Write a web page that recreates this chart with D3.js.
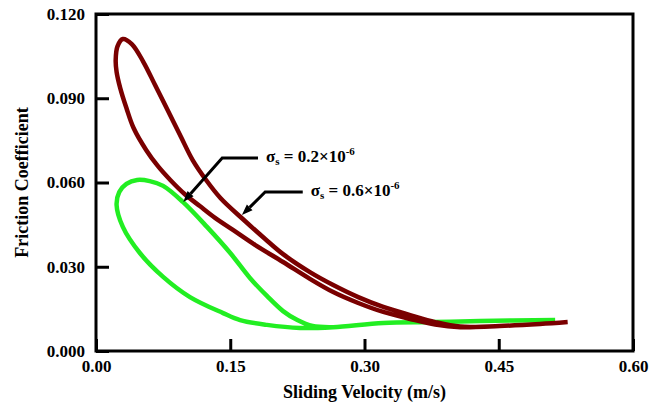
<!DOCTYPE html>
<html>
<head>
<meta charset="utf-8">
<script src="https://cdn.jsdelivr.net/npm/d3@7"></script>
<style>
  body { margin: 0; background: #fff; }
  text { font-family: "Liberation Serif", "Times New Roman", serif; font-weight: bold; }
</style>
</head>
<body>
<div id="chart"></div>
<script>
// tick labels
const xTicks = [0, 0.15, 0.30, 0.45, 0.60]
const yTicks = [0, 0.03, 0.06, 0.09, 0.12]

// sigma_s = 0.2e-6 (green loop)
const velA = [0.513, 0.429, 0.377, 0.321, 0.265, 0.228, 0.191, 0.161, 0.142, 0.105, 0.075, 0.049, 0.030, 0.023, 0.026, 0.034, 0.046, 0.060, 0.075, 0.097, 0.124, 0.150, 0.172, 0.191, 0.209, 0.225, 0.242, 0.265]
const fricA = [0.0110, 0.0107, 0.0103, 0.0100, 0.0085, 0.0082, 0.0093, 0.0110, 0.0135, 0.0192, 0.0264, 0.0349, 0.0442, 0.0520, 0.0566, 0.0595, 0.0609, 0.0605, 0.0588, 0.0531, 0.0442, 0.0349, 0.0260, 0.0196, 0.0142, 0.0110, 0.0089, 0.0085]

// sigma_s = 0.6e-6 (dark red loop)
const velB = [0.527, 0.496, 0.451, 0.407, 0.379, 0.351, 0.321, 0.293, 0.265, 0.239, 0.209, 0.189, 0.164, 0.139, 0.123, 0.108, 0.095, 0.080, 0.066, 0.053, 0.040, 0.030, 0.024, 0.022, 0.023, 0.027, 0.034, 0.042, 0.056, 0.069, 0.083, 0.099, 0.116, 0.133, 0.153, 0.178, 0.209, 0.239, 0.265, 0.293, 0.321, 0.351, 0.379, 0.407, 0.451, 0.496]
const fricB = [0.0103, 0.0096, 0.0089, 0.0087, 0.0103, 0.0128, 0.0157, 0.0192, 0.0235, 0.0281, 0.0345, 0.0399, 0.0470, 0.0545, 0.0609, 0.0680, 0.0762, 0.0858, 0.0947, 0.1029, 0.1093, 0.1111, 0.1085, 0.1036, 0.0994, 0.0937, 0.0865, 0.0794, 0.0716, 0.0659, 0.0609, 0.0559, 0.0516, 0.0474, 0.0431, 0.0377, 0.0317, 0.0257, 0.0210, 0.0171, 0.0139, 0.0114, 0.0094, 0.0085, 0.0089, 0.0096]

// annotation leaders: tip, elbow, end of shelf (data units)
const labels = ["0.2", "0.6"]
const tipV = [0.0975, 0.163], tipF = [0.0531, 0.0484]
const elbowV = [0.141, 0.189], elbowF = [0.0687, 0.0566]
const shelfV = [0.181, 0.231]

const margin = { top: 14, left: 96, right: 26, bottom: 53 },
      width = 659 - margin.left - margin.right,
      height = 404 - margin.top - margin.bottom

const svg = d3.select("#chart")
  .append("svg")
  .attr("width", 659)
  .attr("height", 404)

const plot = svg.append("g")
  .attr("transform", "translate(" + margin.left + "," + margin.top + ")")

const x = d3.scaleLinear().domain([0, 0.6]).range([0, width])
const y = d3.scaleLinear().domain([0, 0.12]).range([height, 0])

// tick marks point inward
plot.append("g")
  .attr("transform", "translate(0," + height + ")")
  .call(d3.axisBottom(x).tickValues(xTicks).tickSize(-12).tickPadding(9).tickFormat(d3.format(".2f")))
  .call(g => g.select(".domain").remove())

plot.append("g")
  .call(d3.axisLeft(y).tickValues(yTicks).tickSize(-13).tickPadding(11).tickFormat(d3.format(".3f")))
  .call(g => g.select(".domain").remove())

plot.selectAll(".tick line").attr("stroke", "#000").attr("stroke-width", 3)
plot.selectAll(".tick text")
  .attr("fill", "#000")
  .style("font-size", "17px")
  .style("font-family", "Liberation Serif, serif")
  .style("font-weight", "bold")

plot.append("rect")
  .attr("width", width)
  .attr("height", height)
  .attr("fill", "none")
  .attr("stroke", "#000")
  .attr("stroke-width", 3)

const line = d3.line()
  .x(d => x(d[0]))
  .y(d => y(d[1]))
  .curve(d3.curveCatmullRom.alpha(0.5))

plot.append("path")
  .datum(d3.zip(velA, fricA))
  .attr("d", line)
  .attr("fill", "none")
  .attr("stroke", "#22ee22")
  .attr("stroke-width", 4.5)

plot.append("path")
  .datum(d3.zip(velB, fricB))
  .attr("d", line)
  .attr("fill", "none")
  .attr("stroke", "#7a0000")
  .attr("stroke-width", 4.5)

// leaders with arrowheads
labels.forEach(function(lab, i) {
  const tx = x(tipV[i]), ty = y(tipF[i])
  const ex = x(elbowV[i]), ey = y(elbowF[i])
  const ang = Math.atan2(ty - ey, tx - ex)
  const len = 11, half = 4
  const bx = tx - len * Math.cos(ang), by = ty - len * Math.sin(ang)

  plot.append("polyline")
    .attr("points", [[bx, by], [ex, ey], [x(shelfV[i]), ey]].map(p => p.join(",")).join(" "))
    .attr("fill", "none")
    .attr("stroke", "#000")
    .attr("stroke-width", 3)

  plot.append("polygon")
    .attr("points", [
      [tx, ty],
      [bx + half * Math.sin(ang), by - half * Math.cos(ang)],
      [bx - half * Math.sin(ang), by + half * Math.cos(ang)]
    ].map(p => p.join(",")).join(" "))
    .attr("fill", "#000")

  const t = plot.append("text")
    .attr("x", x(shelfV[i]) + 8)
    .attr("y", ey + 4)
    .style("font-size", "17px")
    .attr("fill", "#000")
  t.append("tspan").text("σ")
  t.append("tspan").attr("dy", 3).style("font-size", "11px").text("s")
  t.append("tspan").attr("dy", -3).text(" = " + lab + "×10")
  t.append("tspan").attr("dy", -7).style("font-size", "11px").text("-6")
})

svg.append("text")
  .attr("x", margin.left + width / 2)
  .attr("y", 398)
  .attr("text-anchor", "middle")
  .style("font-size", "18px")
  .text("Sliding Velocity (m/s)")

svg.append("text")
  .attr("transform", "translate(28," + (margin.top + height / 2) + ") rotate(-90)")
  .attr("text-anchor", "middle")
  .style("font-size", "18px")
  .text("Friction Coefficient")
</script>
</body>
</html>
